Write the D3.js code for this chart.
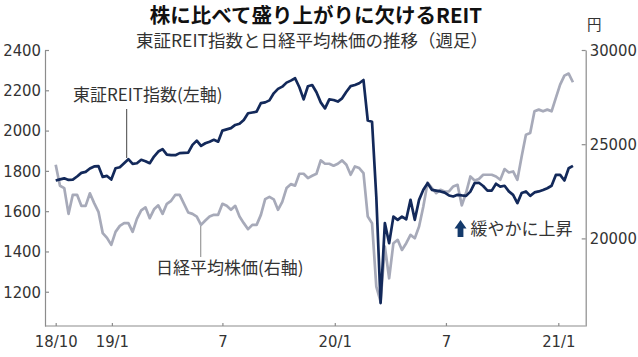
<!DOCTYPE html>
<html><head><meta charset="utf-8">
<script src="https://cdn.jsdelivr.net/npm/d3@7"></script>
<style>
html,body{margin:0;padding:0;background:#fff;}
svg{display:block;}
.num{font-family:"Liberation Sans Narrow","DejaVu Sans Condensed","Roboto Condensed",sans-serif;}
.jp{font-family:"Noto Sans CJK JP","Noto Sans",sans-serif;}
</style></head>
<body><svg id="c" width="638" height="357"></svg>
<script>
// ---- data (weekly, week start Monday; Golden Week 2019 has no trading) ----
const weeks = [
"2018-10-01","2018-10-08","2018-10-15","2018-10-22","2018-10-29","2018-11-05","2018-11-12","2018-11-19","2018-11-26","2018-12-03",
"2018-12-10","2018-12-17","2018-12-24","2018-12-31","2019-01-07","2019-01-14","2019-01-21","2019-01-28","2019-02-04","2019-02-11",
"2019-02-18","2019-02-25","2019-03-04","2019-03-11","2019-03-18","2019-03-25","2019-04-01","2019-04-08","2019-04-15","2019-04-22",
"2019-05-06","2019-05-13","2019-05-20","2019-05-27","2019-06-03","2019-06-10","2019-06-17","2019-06-24","2019-07-01","2019-07-08",
"2019-07-15","2019-07-22","2019-07-29","2019-08-05","2019-08-12","2019-08-19","2019-08-26","2019-09-02","2019-09-09","2019-09-16",
"2019-09-23","2019-09-30","2019-10-07","2019-10-14","2019-10-21","2019-10-28","2019-11-04","2019-11-11","2019-11-18","2019-11-25",
"2019-12-02","2019-12-09","2019-12-16","2019-12-23","2019-12-30","2020-01-06","2020-01-13","2020-01-20","2020-01-27","2020-02-03",
"2020-02-10","2020-02-17","2020-02-24","2020-03-02","2020-03-09","2020-03-16","2020-03-23","2020-03-30","2020-04-06","2020-04-13",
"2020-04-20","2020-04-27","2020-05-04","2020-05-11","2020-05-18","2020-05-25","2020-06-01","2020-06-08","2020-06-15","2020-06-22",
"2020-06-29","2020-07-06","2020-07-13","2020-07-20","2020-07-27","2020-08-03","2020-08-10","2020-08-17","2020-08-24","2020-08-31",
"2020-09-07","2020-09-14","2020-09-21","2020-09-28","2020-10-05","2020-10-12","2020-10-19","2020-10-26","2020-11-02","2020-11-09",
"2020-11-16","2020-11-23","2020-11-30","2020-12-07","2020-12-14","2020-12-21","2020-12-28","2021-01-04","2021-01-11","2021-01-18",
"2021-01-25"];

// 東証REIT指数 (left axis)
const reit = [
1752,1758,1763,1755,1757,1772,1790,1795,1812,1822,
1824,1770,1775,1757,1813,1818,1838,1858,1835,1838,
1855,1848,1838,1871,1896,1908,1881,1878,1878,1888,
1891,1929,1950,1924,1937,1945,1954,1945,2000,2006,
2012,2028,2034,2053,2086,2090,2094,2136,2140,2150,
2185,2207,2218,2238,2248,2260,2215,2155,2220,2226,
2190,2140,2110,2155,2152,2144,2160,2193,2221,2226,
2235,2251,2050,2044,1670,1144,1541,1441,1573,1557,
1573,1560,1656,1557,1656,1706,1739,1706,1702,1698,
1692,1678,1673,1681,1678,1676,1697,1739,1741,1725,
1702,1702,1736,1722,1726,1698,1681,1640,1690,1698,
1676,1693,1698,1705,1714,1726,1780,1780,1752,1813,
1825];

// 日経平均株価 (right axis, 円)
const nikkei = [
23910,22793,22670,21303,22314,22314,21729,21729,22394,21873,
21410,20280,20027,19654,20346,20665,20809,20809,20346,21037,
21490,21649,21075,21543,21755,21303,21835,21995,22314,22314,
21376,21300,21160,20718,20947,21160,21250,21250,21835,21729,
21516,21729,21160,20809,20490,20718,20718,21250,22085,22207,
22075,21516,21942,22670,22880,22800,23431,23431,23202,23325,
23431,24138,23963,23963,23856,23963,24138,23910,23378,23819,
23734,23468,21160,20809,17436,16639,19564,17883,19745,19920,
19388,19745,20186,20010,20628,21692,22968,22670,22404,22580,
22490,22490,22756,22846,21750,22420,23287,23075,23150,23378,
23378,23378,23287,23112,23681,23500,23553,23112,24351,25505,
25596,26745,26835,26745,26835,26745,27457,28165,28640,28750,
28287];

const leftTicks = [1200,1400,1600,1800,2000,2200,2400];
const rightTicks = [20000,25000,30000];
const xTickDates = ["2018-10-01","2019-01-01","2019-07-01","2020-01-01","2020-07-01","2021-01-01"];
const xTickLabels = ["18/10","19/1","7","20/1","7","21/1"];

const title = "株に比べて盛り上がりに欠けるREIT";
const subtitle = "東証REIT指数と日経平均株価の推移（週足）";
const reitLabel = "東証REIT指数(左軸)";
const nikkeiLabel = "日経平均株価(右軸)";
const noteLabel = "緩やかに上昇";
const unitLabel = "円";

// ---- layout ----
const W = 638, H = 357;
const plot = {left:45, right:585.7, top:50, bottom:326};
const NAVY = "#13295a", GREY = "#a7aab9", AXIS = "#8c8c8c", TXT = "#333";

const parse = d3.utcParse("%Y-%m-%d");
const dates = weeks.map(parse);

const x = d3.scaleUtc()
  .domain([parse("2018-10-01"), parse("2021-01-01")])
  .range([55.7, 558.3]);
const yL = d3.scaleLinear().domain([1030, 2400]).range([plot.bottom, plot.top]);
const yR = d3.scaleLinear().domain([15350, 30000]).range([plot.bottom, plot.top]);

const svg = d3.select("#c");

// title
svg.append("text").attr("class","jp").attr("x",316).attr("y",23)
  .attr("text-anchor","middle").attr("font-size",20.5).attr("font-weight",700)
  .attr("fill","#111").text(title);
svg.append("text").attr("class","jp").attr("x",312).attr("y",46.5)
  .attr("text-anchor","middle").attr("font-size",17.5)
  .attr("fill",TXT).text(subtitle);
svg.append("text").attr("class","jp").attr("x",587).attr("y",30)
  .attr("font-size",14.5).attr("fill",TXT).text(unitLabel);

// axes
function styleAxis(g){
  g.selectAll(".domain").attr("stroke",AXIS).attr("stroke-width",1.2);
  g.selectAll(".tick line").attr("stroke",AXIS).attr("stroke-width",1.2);
  g.selectAll(".tick text").attr("class","num").attr("fill",TXT).attr("font-size",16.5);
}
const gL = svg.append("g").attr("transform",`translate(${plot.left},0)`)
  .call(d3.axisLeft(yL).tickValues(leftTicks).tickFormat(d3.format("d"))
    .tickSizeInner(-4).tickSizeOuter(0).tickPadding(4));
gL.attr("font-family",null).attr("font-size",null);
styleAxis(gL);

const gR = svg.append("g").attr("transform",`translate(${plot.right},0)`)
  .call(d3.axisRight(yR).tickValues(rightTicks).tickFormat(d3.format("d"))
    .tickSizeInner(-4).tickSizeOuter(0).tickPadding(4));
gR.attr("font-family",null).attr("font-size",null);
styleAxis(gR);

// baseline
svg.append("line").attr("x1",plot.left).attr("x2",plot.right)
  .attr("y1",plot.bottom).attr("y2",plot.bottom)
  .attr("stroke",AXIS).attr("stroke-width",1.2);

const gX = svg.append("g").attr("transform",`translate(0,${plot.bottom})`)
  .call(d3.axisBottom(x).tickValues(xTickDates.map(parse))
    .tickFormat((d,i)=>xTickLabels[i]).tickSizeInner(-3).tickSizeOuter(0).tickPadding(9));
gX.attr("font-family",null).attr("font-size",null);
gX.select(".domain").remove();
styleAxis(gX);

// lines
const lineN = d3.line().x((d,i)=>x(dates[i])).y(d=>yR(d));
const lineR = d3.line().x((d,i)=>x(dates[i])).y(d=>yL(d));
svg.append("path").datum(nikkei).attr("d",lineN).attr("fill","none")
  .attr("stroke",GREY).attr("stroke-width",2.7).attr("stroke-linejoin","round");
svg.append("path").datum(reit).attr("d",lineR).attr("fill","none")
  .attr("stroke",NAVY).attr("stroke-width",2.7).attr("stroke-linejoin","round");

// annotations
svg.append("text").attr("class","jp").attr("x",73).attr("y",101)
  .attr("font-size",17).attr("fill",TXT).text(reitLabel);
svg.append("line").attr("x1",126.7).attr("x2",126.7).attr("y1",109).attr("y2",158)
  .attr("stroke","#444").attr("stroke-width",1);

svg.append("text").attr("class","jp").attr("x",156).attr("y",274)
  .attr("font-size",17).attr("fill",TXT).text(nikkeiLabel);
svg.append("line").attr("x1",200.7).attr("x2",200.7).attr("y1",226).attr("y2",257)
  .attr("stroke","#9a9a9a").attr("stroke-width",1.2);

svg.append("path")
  .attr("d","M454.5,228.5 L460.5,220 L466.5,228.5 L463.4,228.5 L463.4,237 L457.6,237 L457.6,228.5 Z")
  .attr("fill","#143a6b");
svg.append("text").attr("class","jp").attr("x",470.5).attr("y",235)
  .attr("font-size",17).attr("fill",TXT).text(noteLabel);
</script></body></html>
